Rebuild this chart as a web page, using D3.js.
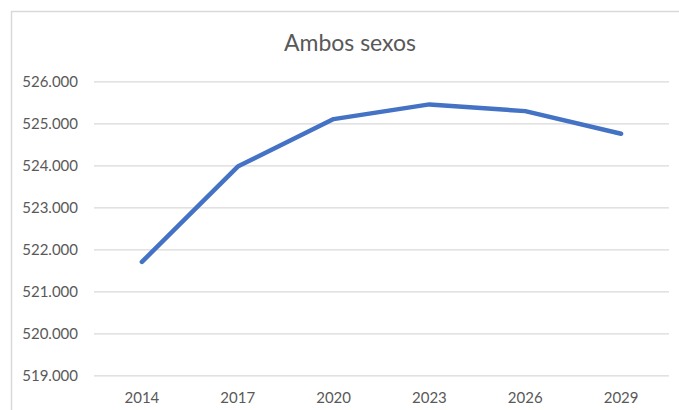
<!DOCTYPE html>
<html>
<head>
<meta charset="utf-8">
<script src="https://cdn.jsdelivr.net/npm/d3@7"></script>
<style>
  html, body { margin: 0; padding: 0; background: #fff; }
  svg { display: block; }
  text { font-family: Lato, "Open Sans", sans-serif; fill: #595959; }
</style>
</head>
<body>
<script>
const title = "Ambos sexos";
const categories = ["2014", "2017", "2020", "2023", "2026", "2029"];
const values = [521700, 523970, 525100, 525450, 525290, 524750];
const yTicks = [519000, 520000, 521000, 522000, 523000, 524000, 525000, 526000];

const W = 679, H = 410;
const svg = d3.select("body").append("svg").attr("width", W).attr("height", H);

// chart border (left + top visible)
svg.append("path")
  .attr("d", "M11.5,410 L11.5,11.5 L679,11.5")
  .attr("fill", "none").attr("stroke", "#d9d9d9").attr("stroke-width", 1.5);

const x = d3.scaleBand().domain(categories).range([94, 669]).padding(0);
const y = d3.scaleLinear().domain([519000, 526000]).range([375.3, 81.3]);

const loc = d3.formatLocale({decimal: ",", thousands: ".", grouping: [3], currency: ["", "€"]});
const fmt = loc.format(",.0f");

// gridlines + y labels
const yAxis = d3.axisLeft(y).tickValues(yTicks).tickSize(-(669 - 94)).tickPadding(16).tickFormat(fmt);
const gy = svg.append("g").attr("transform", "translate(94,0)").call(yAxis);
gy.select(".domain").remove();
gy.selectAll(".tick line").attr("stroke", "#d9d9d9").attr("stroke-width", 1.3);
gy.selectAll(".tick text").attr("font-size", 15).attr("fill", "#595959")
  .style("font-family", "Lato, 'Open Sans', sans-serif");

const xAxis = d3.axisBottom(x).tickSize(0).tickPadding(17);
const gx = svg.append("g").attr("transform", "translate(0,375.3)").call(xAxis);
gx.select(".domain").remove();
gx.selectAll(".tick text").attr("font-size", 15).attr("fill", "#595959")
  .style("font-family", "Lato, 'Open Sans', sans-serif");

// line
const line = d3.line()
  .x((d, i) => x(categories[i]) + x.bandwidth() / 2)
  .y(d => y(d));
svg.append("path")
  .datum(values)
  .attr("d", line)
  .attr("fill", "none")
  .attr("stroke", "#4472C4")
  .attr("stroke-width", 4.5)
  .attr("stroke-linecap", "round")
  .attr("stroke-linejoin", "round");

// title
svg.append("text")
  .attr("x", 350).attr("y", 51)
  .attr("text-anchor", "middle")
  .attr("font-size", 23)
  .attr("fill", "#595959")
  .text(title);
</script>
</body>
</html>
